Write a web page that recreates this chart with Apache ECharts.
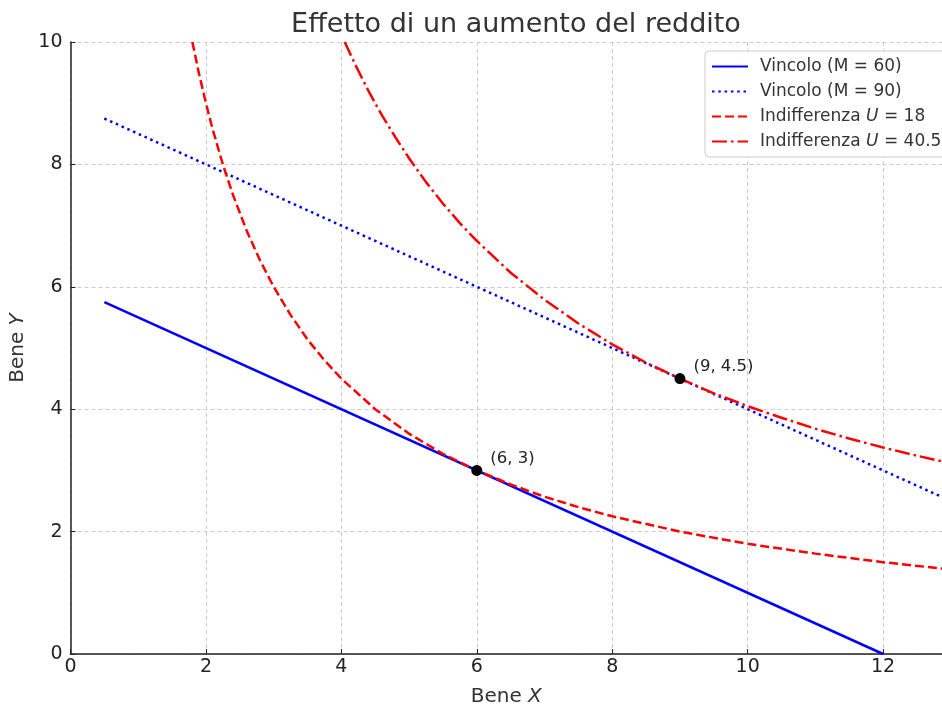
<!DOCTYPE html>
<html>
<head>
<meta charset="utf-8">
<script src="https://cdn.jsdelivr.net/npm/echarts@6/dist/echarts.min.js"></script>
<style>html,body{margin:0;padding:0;background:#fff}#c{width:942px;height:707px}</style>
</head>
<body>
<div id="c"></div>
<script>
// Budget constraints (x, y)
const budget60X = [0.5, 12];
const budget60Y = [5.75, 0];
const budget90X = [0.5, 13];
const budget90Y = [8.75, 2.5];
// Indifference curves
const indiff18X = [1.8, 1.9, 2.0, 2.1, 2.25, 2.4, 2.6, 2.8, 3.0, 3.25, 3.5, 3.75, 4.0, 4.5, 5.0, 5.5, 6.0, 6.5, 7.0, 7.5, 8.0, 9.0, 10.0, 11.0, 12.0, 13.0];
const indiff18Y = [10.0, 9.47, 9.0, 8.57, 8.0, 7.5, 6.92, 6.43, 6.0, 5.54, 5.14, 4.8, 4.5, 4.0, 3.6, 3.27, 3.0, 2.77, 2.57, 2.4, 2.25, 2.0, 1.8, 1.64, 1.5, 1.38];
const indiff40X = [4.05, 4.2, 4.4, 4.6, 4.8, 5.0, 5.25, 5.5, 5.75, 6.0, 6.5, 7.0, 7.5, 8.0, 8.5, 9.0, 9.5, 10.0, 10.5, 11.0, 11.5, 12.0, 12.5, 13.0];
const indiff40Y = [10.0, 9.64, 9.2, 8.8, 8.44, 8.1, 7.71, 7.36, 7.04, 6.75, 6.23, 5.79, 5.4, 5.06, 4.76, 4.5, 4.26, 4.05, 3.86, 3.68, 3.52, 3.375, 3.24, 3.115];
// Optimal points
const optimaX = [6, 9];
const optimaY = [3, 4.5];
const optimaLabels = ['(6, 3)', '(9, 4.5)'];
// Axis ticks
const xTicks = [0, 2, 4, 6, 8, 10, 12];
const yTicks = [0, 2, 4, 6, 8, 10];
const seriesNames = ['Vincolo (M = 60)', 'Vincolo (M = 90)', 'Indifferenza U = 18', 'Indifferenza U = 40.5'];

const zip = (xs, ys) => xs.map((x, i) => [x, ys[i]]);
const FONT = 'DejaVu Sans';

const chart = echarts.init(document.getElementById('c'), null, {renderer: 'canvas'});
const lineSeries = (name, xs, ys, color, type) => ({
  name, type: 'line', data: zip(xs, ys), symbol: 'none', showSymbol: false,
  lineStyle: {color, width: 2.5, type, cap: 'butt'}, itemStyle: {color},
  clip: true, animation: false, z: 3
});

chart.setOption({
  animation: false,
  title: {
    text: 'Effetto di un aumento del reddito', left: 511, top: 6, textAlign: 'center',
    textStyle: {fontFamily: FONT, fontSize: 27, fontWeight: 'normal', color: '#333'}
  },
  grid: {left: 70.5, right: 0, top: 42, bottom: 53, containLabel: false, outerBoundsMode: 'none'},
  legend: {
    data: seriesNames, orient: 'vertical', left: 705, top: 51,
    padding: [7, 10, 7, 6], itemGap: 8, itemWidth: 36, itemHeight: 14,
    itemStyle: {opacity: 0},
    backgroundColor: '#fff', borderColor: '#ccc', borderWidth: 1, borderRadius: 4,
    formatter: n => {
      const m = n.match(/^(Indifferenza )U( = .*)$/);
      return m ? '{n|' + m[1] + '}{i|U}{n|' + m[2] + '}' : '{n|' + n + '}';
    },
    textStyle: {
      fontFamily: FONT, fontSize: 17, color: '#333', padding: [0, 0, 0, 7],
      rich: {n: {fontFamily: FONT, fontSize: 17, color: '#333'}, i: {fontFamily: FONT, fontSize: 17, color: '#333', fontStyle: 'italic'}}
    }
  },
  xAxis: {
    type: 'value', min: 0, max: 12.87, interval: 2,
    name: '{n|Bene }{i|X}', nameLocation: 'middle', nameGap: 33,
    nameTextStyle: {rich: {n: {fontFamily: FONT, fontSize: 20, color: '#333'}, i: {fontFamily: FONT, fontSize: 20, color: '#333', fontStyle: 'italic'}}},
    axisLine: {show: true, onZero: false, lineStyle: {color: '#222', width: 1.5}},
    axisTick: {show: true, inside: true, length: 5, lineStyle: {color: '#222', width: 1}},
    axisLabel: {fontFamily: FONT, fontSize: 19, color: '#222', margin: 4, showMaxLabel: false,
      formatter: v => xTicks.includes(v) ? String(v) : ''},
    splitLine: {show: true, lineStyle: {color: '#cccccc', type: [4, 3], width: 1}}
  },
  yAxis: {
    type: 'value', min: 0, max: 10, interval: 2,
    name: '{n|Bene }{i|Y}', nameLocation: 'middle', nameGap: 36, nameRotate: 90,
    nameTextStyle: {rich: {n: {fontFamily: FONT, fontSize: 20, color: '#333'}, i: {fontFamily: FONT, fontSize: 20, color: '#333', fontStyle: 'italic'}}},
    axisLine: {show: true, onZero: false, lineStyle: {color: '#222', width: 1.5}},
    axisTick: {show: true, inside: true, length: 5, lineStyle: {color: '#222', width: 1}},
    axisLabel: {fontFamily: FONT, fontSize: 19, color: '#222', margin: 8,
      formatter: v => yTicks.includes(v) ? String(v) : ''},
    splitLine: {show: true, lineStyle: {color: '#cccccc', type: [4, 3], width: 1}}
  },
  series: [
    lineSeries(seriesNames[0], budget60X, budget60Y, '#0000ff', 'solid'),
    lineSeries(seriesNames[1], budget90X, budget90Y, '#0000ff', [2.5, 3.8]),
    lineSeries(seriesNames[2], indiff18X, indiff18Y, '#ff0000', [9, 4]),
    lineSeries(seriesNames[3], indiff40X, indiff40Y, '#ff0000', [15, 4, 2.5, 4]),
    {
      name: 'Ottimi', type: 'scatter', data: zip(optimaX, optimaY), symbol: 'circle', symbolSize: 11,
      itemStyle: {color: '#000', opacity: 1}, z: 5, animation: false,
      label: {show: true, position: 'right', offset: [3, -12], fontFamily: FONT, fontSize: 16.5, color: '#222',
        formatter: p => optimaLabels[p.dataIndex]}
    }
  ]
});
</script>
</body>
</html>
